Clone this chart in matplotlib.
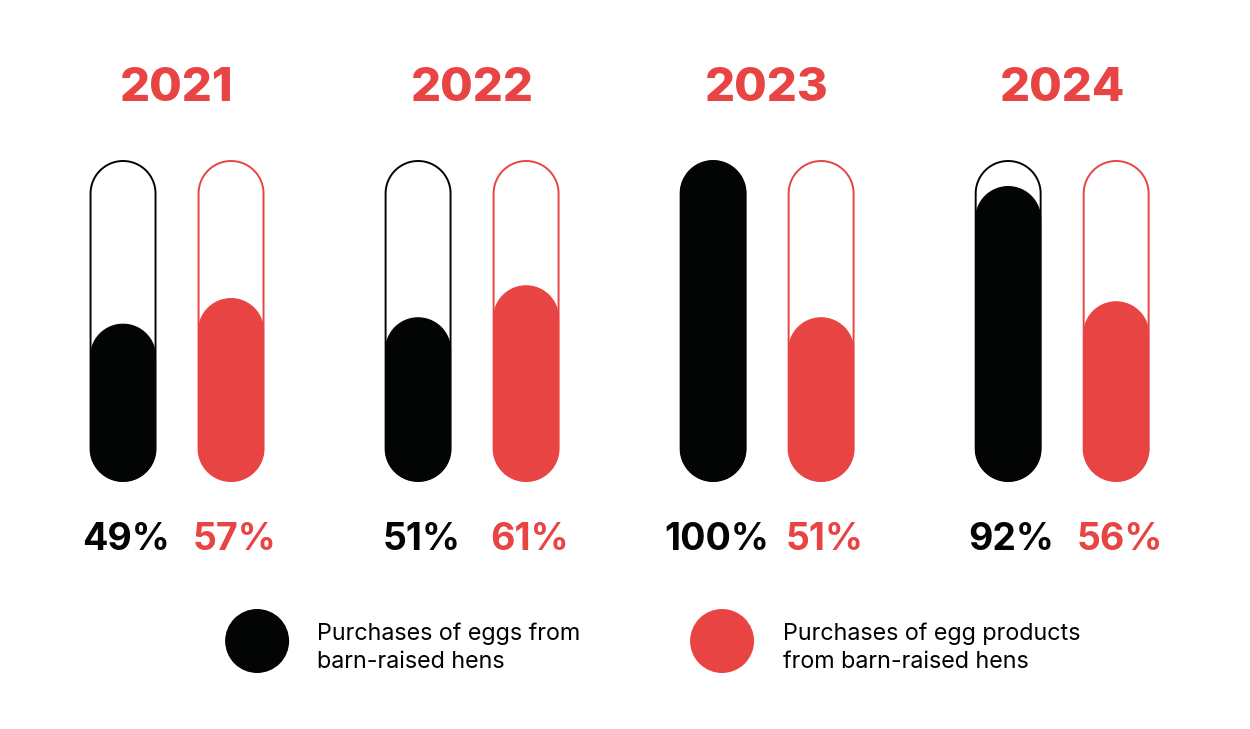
import numpy as np
import matplotlib.pyplot as plt
from matplotlib.patches import Polygon, Circle

# data
years = ['2021', '2022', '2023', '2024']
eggs = [49, 51, 100, 92]
egg_products = [57, 61, 51, 56]
legend_labels = ['Purchases of eggs from\nbarn-raised hens',
                 'Purchases of egg products\nfrom barn-raised hens']

BLACK = '#030504'
RED = '#E84444'

plt.rcParams['font.family'] = ['Inter', 'DejaVu Sans']


def pill(x, w, h):
    # vertical capsule from 0 to h, centred on x
    r = w / 2
    t = np.linspace(0, np.pi, 60)
    top = np.column_stack([x + r * np.cos(t), h - r + r * np.sin(t)])
    bot = np.column_stack([x - r * np.cos(t), r - r * np.sin(t)])
    return np.vstack([top, bot])


fig = plt.figure(figsize=(12.5, 7.29), dpi=100)
W, H = 1250, 729
# bars area: pixel 60..1180 wide, 161..481 tall -> 3.2 px per unit on both axes
ax = fig.add_axes([60 / W, 1 - 481 / H, 1120 / W, 320 / H])
ax.set_xlim(0, 350)
ax.set_ylim(0, 100)
ax.axis('off')

bar_w = 20.3
group_step = 92.2
first_x = 19.7
pair_gap = 33.75

for i, year in enumerate(years):
    xs = [first_x + group_step * i, first_x + group_step * i + pair_gap]
    for x, val, col in zip(xs, [eggs[i], egg_products[i]], [BLACK, RED]):
        ax.add_patch(Polygon(pill(x, bar_w, 100), closed=True, facecolor='none',
                             edgecolor=col, linewidth=1.4, clip_on=False))
        ax.add_patch(Polygon(pill(x, bar_w, val), closed=True, facecolor=col,
                             edgecolor=col, linewidth=0.8, clip_on=False))
        ax.text(x + 1, -18.4, f'{val}%', color=col, ha='center', va='center',
                fontsize=27, fontweight='bold', clip_on=False)
    ax.text(sum(xs) / 2, 122.5, year, color=RED, ha='center', va='center',
            fontsize=34, fontweight='heavy', clip_on=False)

# legend
for cx, tx, col, lab in zip([61.6, 206.9], [80.3, 225.9], [BLACK, RED], legend_labels):
    ax.add_patch(Circle((cx, -50), 10, facecolor=col, edgecolor='none', clip_on=False))
    ax.text(tx, -52, lab, color='black', ha='left', va='center',
            fontsize=16.8, linespacing=1.35, clip_on=False)

fig.savefig('out.png', dpi=100, facecolor='white')
